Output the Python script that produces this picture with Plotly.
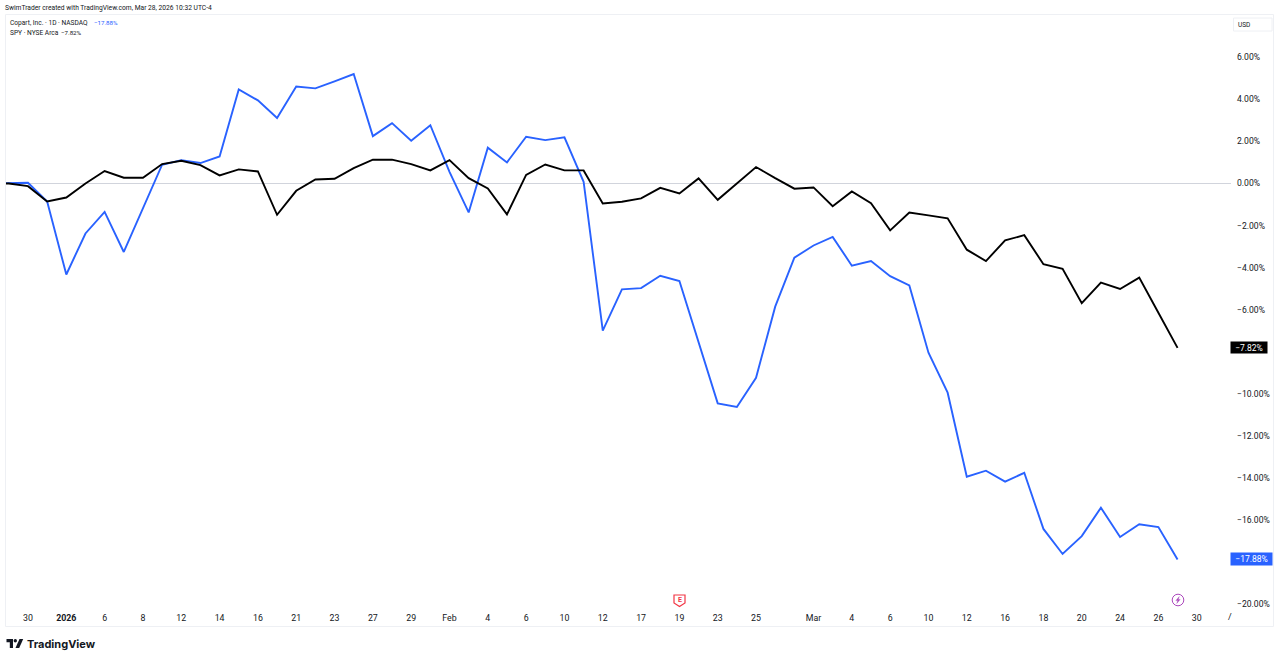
import plotly.graph_objects as go

dates = ["Dec 26", "Dec 29", "Dec 30", "Dec 31", "Jan 2", "Jan 5", "Jan 6", "Jan 7", "Jan 8", "Jan 9",
         "Jan 12", "Jan 13", "Jan 14", "Jan 15", "Jan 16", "Jan 20", "Jan 21", "Jan 22", "Jan 23",
         "Jan 26", "Jan 27", "Jan 28", "Jan 29", "Jan 30", "Feb 2", "Feb 3", "Feb 4", "Feb 5", "Feb 6",
         "Feb 9", "Feb 10", "Feb 11", "Feb 12", "Feb 13", "Feb 17", "Feb 18", "Feb 19", "Feb 20",
         "Feb 23", "Feb 24", "Feb 25", "Feb 26", "Feb 27", "Mar 2", "Mar 3", "Mar 4", "Mar 5", "Mar 6",
         "Mar 9", "Mar 10", "Mar 11", "Mar 12", "Mar 13", "Mar 16", "Mar 17", "Mar 18", "Mar 19",
         "Mar 20", "Mar 23", "Mar 24", "Mar 25", "Mar 26", "Mar 27"]
future_dates = ["Mar 30", "Mar 31"]

copart = [0.0, 0.0, 0.03, -0.86, -4.33, -2.38, -1.35, -3.26, -1.19, 0.89, 1.11, 0.97, 1.28, 4.47, 3.95,
          3.11, 4.61, 4.52, 4.85, 5.20, 2.25, 2.87, 2.03, 2.77, 0.55, -1.38, 1.70, 1.00, 2.22, 2.06,
          2.19, 0.08, -7.00, -5.04, -4.98, -4.39, -4.64, -7.61, -10.46, -10.63, -9.24, -5.86, -3.53,
          -2.95, -2.54, -3.91, -3.69, -4.41, -4.85, -8.05, -9.95, -13.95, -13.66, -14.18, -13.76,
          -16.43, -17.62, -16.77, -15.42, -16.81, -16.21, -16.34, -17.88]
spy = [0.0, 0.0, -0.13, -0.86, -0.67, 0.0, 0.59, 0.27, 0.27, 0.92, 1.08, 0.87, 0.38, 0.67, 0.57,
       -1.49, -0.35, 0.19, 0.22, 0.73, 1.13, 1.13, 0.92, 0.62, 1.11, 0.25, -0.24, -1.47, 0.41, 0.90,
       0.62, 0.62, -0.95, -0.87, -0.71, -0.21, -0.48, 0.24, -0.78, -0.02, 0.78, 0.25, -0.25, -0.19,
       -1.08, -0.38, -0.94, -2.23, -1.38, -1.52, -1.66, -3.15, -3.69, -2.71, -2.46, -3.84, -4.06,
       -5.69, -4.72, -5.02, -4.48, -6.15, -7.82]

x_tick_dates = ["Dec 30", "Jan 2", "Jan 6", "Jan 8", "Jan 12", "Jan 14", "Jan 16", "Jan 21", "Jan 23",
                "Jan 27", "Jan 29", "Feb 2", "Feb 4", "Feb 6", "Feb 10", "Feb 12", "Feb 17", "Feb 19",
                "Feb 23", "Feb 25", "Mar 2", "Mar 4", "Mar 6", "Mar 10", "Mar 12", "Mar 16", "Mar 18",
                "Mar 20", "Mar 24", "Mar 26", "Mar 30"]
x_tick_labels = ["30", "<b>2026</b>", "6", "8", "12", "14", "16", "21", "23", "27", "29", "Feb", "4", "6",
                 "10", "12", "17", "19", "23", "25", "Mar", "4", "6", "10", "12", "16", "18", "20", "24",
                 "26", "30"]
y_ticks = [6, 4, 2, 0, -2, -4, -6, -10, -12, -14, -16, -20]
y_tick_labels = ["6.00%", "4.00%", "2.00%", "0.00%", "\u22122.00%", "\u22124.00%", "\u22126.00%",
                 "\u221210.00%", "\u221212.00%", "\u221214.00%", "\u221216.00%", "\u221220.00%"]

W, H = 1280, 660
BLUE, BLACK, TEXT = "#2962FF", "#000000", "#131722"
FONT = "Roboto, sans-serif"
BORDER = "#eef0f4"


def px(v):
    return v / W


def py(v):
    return 1 - v / H


def path(points):
    return "M" + " L".join(f"{px(a):.5f},{py(b):.5f}" for a, b in points) + " Z"


def note(x, y, text, size=8, color=TEXT, anchor="left", family=FONT, **kw):
    return dict(xref="paper", yref="paper", x=px(x), y=py(y), text=text, showarrow=False, xanchor=anchor,
                yanchor="middle", align="left", font=dict(family=family, size=size, color=color),
                borderpad=0, **kw)


fig = go.Figure()
fig.add_trace(go.Scatter(x=dates, y=copart, mode="lines", line=dict(color=BLUE, width=1.9, shape="linear"),
                         hoverinfo="skip", name="Copart"))
fig.add_trace(go.Scatter(x=dates, y=spy, mode="lines", line=dict(color=BLACK, width=1.9, shape="linear"),
                         hoverinfo="skip", name="SPY"))

annotations = [
    note(4, 8, "SwimTrader created with TradingView.com, Mar 28, 2026 10:32 UTC-4", size=6.7),
    note(9, 23, "Copart, Inc. \u00b7 1D \u00b7 NASDAQ", size=6.6),
    note(93, 23, f"\u2212{abs(copart[-1]):.2f}%", size=6.2, color=BLUE),
    note(9, 33, "SPY \u00b7 NYSE Arca", size=6.6),
    note(60, 33, f"\u2212{abs(spy[-1]):.2f}%", size=6.2),
    note(1237, 25, "USD", size=6.5),
    note(1227, 617, "/", size=9),
    note(26, 644, "<b>TradingView</b>", size=11, family="Inter, sans-serif"),
    note(679.5, 600, "<b>E</b>", size=7, color="#f23645", anchor="center"),
    dict(xref="paper", yref="y", x=px(1230), y=spy[-1], text=f"\u2212{abs(spy[-1]):.2f}%", showarrow=False,
         xanchor="left", yanchor="middle", bgcolor=BLACK, width=36, height=11,
         font=dict(family=FONT, size=8.5, color="#ffffff"), align="center", borderpad=0),
    dict(xref="paper", yref="y", x=px(1230), y=copart[-1], text=f"\u2212{abs(copart[-1]):.2f}%", showarrow=False,
         xanchor="left", yanchor="middle", bgcolor=BLUE, width=41, height=12,
         font=dict(family=FONT, size=8.5, color="#ffffff"), align="center", borderpad=0),
]

shapes = [
    dict(type="rect", xref="paper", yref="paper", x0=px(5.5), x1=px(1273.5), y0=py(14.5), y1=py(626.5),
         line=dict(color=BORDER, width=1), fillcolor="rgba(0,0,0,0)"),
    dict(type="rect", xref="paper", yref="paper", x0=px(1233.5), x1=px(1272), y0=py(18), y1=py(31),
         line=dict(color=BORDER, width=1), fillcolor="rgba(0,0,0,0)"),
    # earnings flag
    dict(type="path", xref="paper", yref="paper",
         path=path([(674, 595), (685, 595), (685, 603), (679.5, 606.5), (674, 603)]),
         line=dict(color="#f23645", width=1.2), fillcolor="#ffffff"),
    # lightning badge
    dict(type="circle", xref="paper", yref="paper", x0=px(1172.2), x1=px(1183.8), y0=py(594.2), y1=py(605.8),
         line=dict(color="#ab47bc", width=1), fillcolor="#ffffff"),
    dict(type="path", xref="paper", yref="paper",
         path=path([(1179.3, 596.5), (1175.8, 600.6), (1177.7, 600.6), (1176.7, 603.6), (1180.2, 599.4), (1178.3, 599.4)]),
         line=dict(color="#ab47bc", width=0.3), fillcolor="#ab47bc"),
    # TradingView logo
    dict(type="path", xref="paper", yref="paper",
         path=path([(6.5, 639), (13, 639), (13, 648), (9.8, 648), (9.8, 642.2), (6.5, 642.2)]),
         line=dict(width=0), fillcolor=TEXT),
    dict(type="circle", xref="paper", yref="paper", x0=px(13.6), x1=px(17.0), y0=py(639), y1=py(642.4),
         line=dict(width=0), fillcolor=TEXT),
    dict(type="path", xref="paper", yref="paper",
         path=path([(19.5, 639), (23.2, 639), (19.2, 648), (15.5, 648)]),
         line=dict(width=0), fillcolor=TEXT),
]

fig.update_layout(
    width=W, height=H, margin=dict(l=0, r=0, t=0, b=0), autosize=False,
    paper_bgcolor="#ffffff", plot_bgcolor="#ffffff", showlegend=False, hovermode=False,
    annotations=annotations, shapes=shapes,
    xaxis=dict(domain=[px(6), px(1231)], type="category", categoryorder="array",
               categoryarray=dates + future_dates, range=[0.852, 64.79], tickmode="array",
               tickvals=x_tick_dates, ticktext=x_tick_labels, showgrid=False, zeroline=False,
               showline=False, ticks="", ticklabelstandoff=3,
               tickfont=dict(family=FONT, size=8.8, color=TEXT), tickangle=0),
    yaxis=dict(domain=[py(608), py(15)], side="right", range=[-20.19, 8.01], tickmode="array",
               tickvals=y_ticks, ticktext=y_tick_labels, showgrid=False, zeroline=True,
               zerolinecolor="#d1d4dc", zerolinewidth=1, showline=False, ticks="", ticklabelstandoff=5,
               tickfont=dict(family=FONT, size=8.6, color=TEXT)),
)

fig.write_html("out.html", config=dict(displayModeBar=False),
               post_script="document.body.style.margin='0';document.body.style.overflow='hidden';")
